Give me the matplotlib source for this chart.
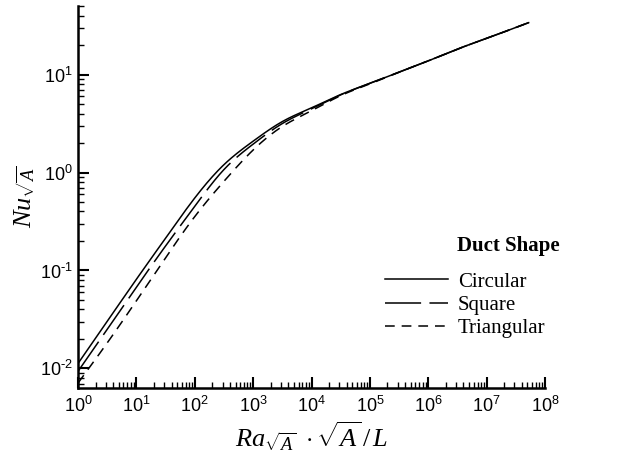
import numpy as np
import matplotlib
matplotlib.use("Agg")
import matplotlib.pyplot as plt
from matplotlib.ticker import LogLocator, NullFormatter, FuncFormatter

plt.rcParams['font.family'] = ['Liberation Sans', 'DejaVu Sans']
plt.rcParams['mathtext.fontset'] = 'custom'
plt.rcParams['mathtext.rm'] = 'Liberation Serif'
plt.rcParams['mathtext.it'] = 'Liberation Serif:italic'
plt.rcParams['mathtext.bf'] = 'Liberation Serif:bold'
plt.rcParams['lines.scale_dashes'] = False
plt.rcParams['axes.unicode_minus'] = False

# Data (log10 values)
log_ra = [0.0, 0.5, 1.0, 1.5, 2.0, 2.5, 3.0, 3.5, 4.0, 4.5, 5.0, 5.5, 6.0, 6.5, 7.0, 7.72]
log_nu_circular = [-1.95, -1.52, -1.09, -0.67, -0.26, 0.08, 0.32, 0.52, 0.66, 0.796, 0.91, 1.025, 1.14, 1.26, 1.37, 1.53]
log_nu_square = [-2.03, -1.60, -1.17, -0.75, -0.345, 0.03, 0.29, 0.50, 0.65, 0.793, 0.91, 1.025, 1.14, 1.26, 1.37, 1.53]
log_nu_triangular = [-2.15, -1.74, -1.31, -0.87, -0.45, -0.09, 0.23, 0.47, 0.63, 0.785, 0.905, 1.025, 1.14, 1.26, 1.37, 1.53]
series_names = ["Circular", "Square", "Triangular"]

ra = 10 ** np.array(log_ra)
curves = [10 ** np.array(v) for v in (log_nu_circular, log_nu_square, log_nu_triangular)]


def natural_spline(x, y, xs):
    x = np.asarray(x, float); y = np.asarray(y, float)
    n = len(x)
    h = np.diff(x)
    A = np.zeros((n, n)); b = np.zeros(n)
    A[0, 0] = 1; A[-1, -1] = 1
    for i in range(1, n - 1):
        A[i, i - 1] = h[i - 1]
        A[i, i] = 2 * (h[i - 1] + h[i])
        A[i, i + 1] = h[i]
        b[i] = 3 * ((y[i + 1] - y[i]) / h[i] - (y[i] - y[i - 1]) / h[i - 1])
    c = np.linalg.solve(A, b)
    bb = (np.diff(y) / h) - h * (2 * c[:-1] + c[1:]) / 3
    d = np.diff(c) / (3 * h)
    idx = np.clip(np.searchsorted(x, xs) - 1, 0, n - 2)
    dx = xs - x[idx]
    return y[idx] + bb[idx] * dx + c[idx] * dx ** 2 + d[idx] * dx ** 3


def smooth(x, y, n=400):
    lx = np.log10(x); ly = np.log10(y)
    xs = np.linspace(lx[0], lx[-1], n)
    return 10 ** xs, 10 ** natural_spline(lx, ly, xs)


def pow_fmt(v, pos):
    e = int(round(np.log10(v)))
    if e < 0:
        return r'$\mathdefault{10^{\text{-}%d}}$' % (-e)
    return r'$\mathdefault{10^{%d}}$' % e


fig = plt.figure(figsize=(6.35, 4.62), dpi=100)
ax = fig.add_axes([78 / 635, 1 - 388 / 462, (545 - 78) / 635, (388 - 6) / 462])

styles = [dict(linestyle='-'),
          dict(linestyle=(0, (26, 6))),
          dict(linestyle=(0, (7, 5)))]
handles = []
for y, name, st in zip(curves, series_names, styles):
    xs, ys = smooth(ra, y)
    h, = ax.plot(xs, ys, color='black', lw=1.1, label=name, **st)
    handles.append(h)

ax.set_xscale('log')
ax.set_yscale('log')
ax.set_xlim(1, 1e8)
ax.set_ylim(10 ** -2.2, 10 ** 1.7)

for s in ['top', 'right']:
    ax.spines[s].set_visible(False)
for s in ['left', 'bottom']:
    ax.spines[s].set_linewidth(1.8)

ax.xaxis.set_major_locator(LogLocator(base=10, numticks=20))
ax.xaxis.set_minor_locator(LogLocator(base=10, subs=np.arange(2, 10), numticks=20))
ax.yaxis.set_major_locator(LogLocator(base=10, numticks=20))
ax.yaxis.set_minor_locator(LogLocator(base=10, subs=np.arange(2, 10), numticks=20))
ax.xaxis.set_major_formatter(FuncFormatter(pow_fmt))
ax.yaxis.set_major_formatter(FuncFormatter(pow_fmt))
ax.xaxis.set_minor_formatter(NullFormatter())
ax.yaxis.set_minor_formatter(NullFormatter())
ax.tick_params(which='major', direction='in', length=8, width=1.5, labelsize=13, color='black')
ax.tick_params(axis='y', which='major', pad=4)
ax.tick_params(axis='x', which='major', pad=6)
ax.tick_params(which='minor', direction='in', length=4, width=1.0)

ax.set_xlabel(r'$Ra_{\sqrt{A}}\ \cdot\sqrt{A}\,/\,L$', fontsize=19, labelpad=2)
ax.set_ylabel(r'$Nu_{\sqrt{A}}$', fontsize=19)
ax.yaxis.set_label_coords(-0.086, 0.5)

leg = ax.legend(handles=handles, loc='upper left', bbox_to_anchor=(381 / 635, 1 - 268 / 462),
                bbox_transform=fig.transFigure, frameon=False,
                prop={'family': 'Liberation Serif', 'size': 15},
                handlelength=3.0, handletextpad=0.5, labelspacing=0.17,
                borderpad=0.2, borderaxespad=0)
fig.text(457 / 635, 1 - 246 / 462, 'Duct Shape', family='Liberation Serif', weight='bold',
         fontsize=15, ha='left', va='center')

fig.savefig('out.png', dpi=100)
